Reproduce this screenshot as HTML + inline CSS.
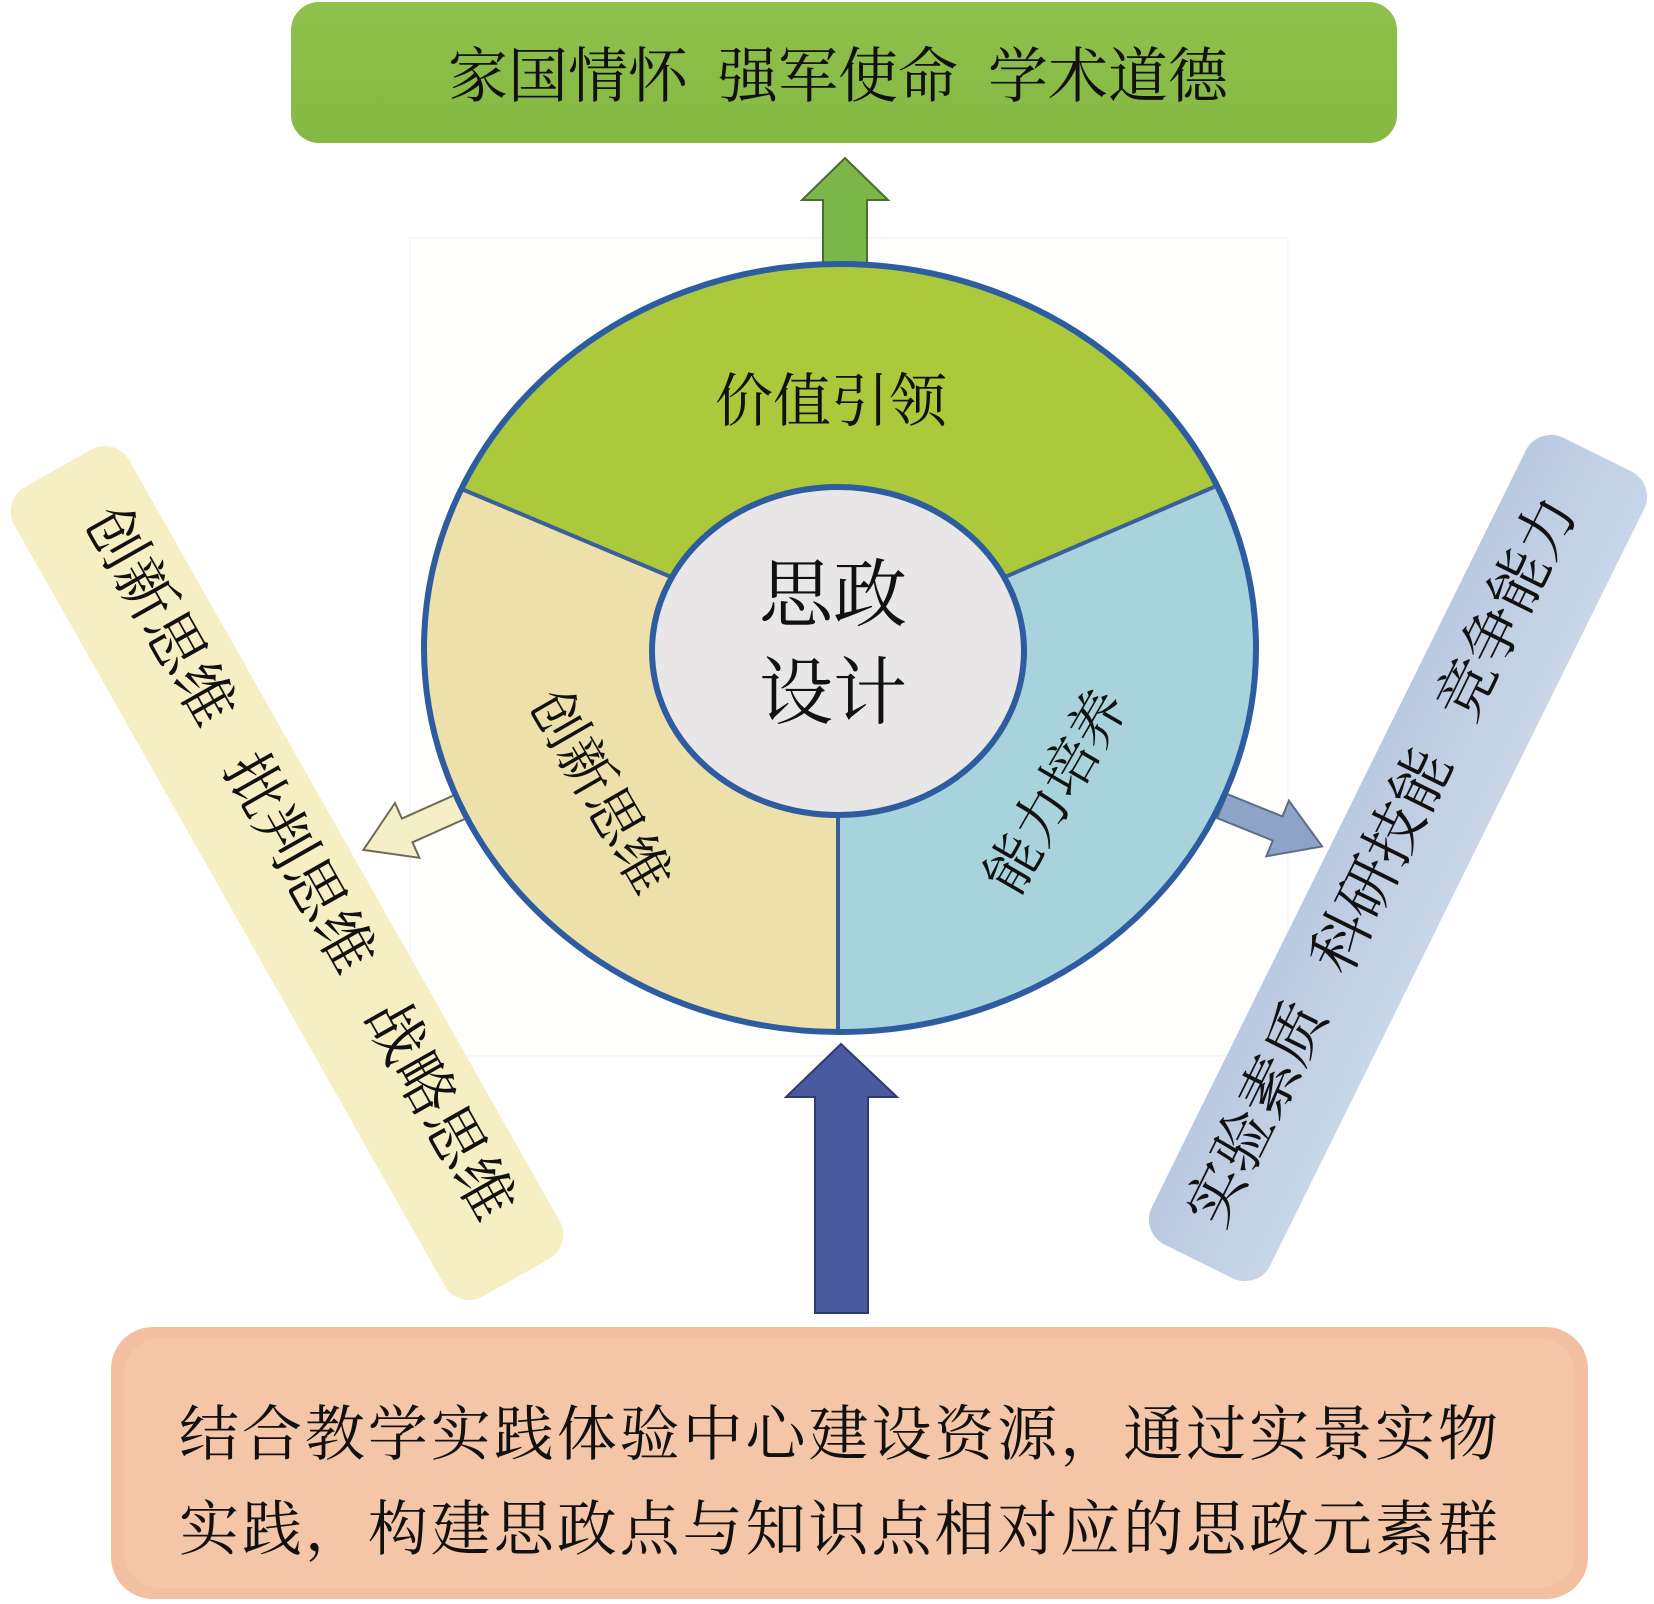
<!DOCTYPE html>
<html><head><meta charset="utf-8"><style>
html,body{margin:0;padding:0;background:#fff;}
svg{display:block;}
text{font-family:"Liberation Serif","Noto Serif CJK SC","Noto Sans CJK SC",serif;fill:#111;}
</style></head><body>
<svg width="1654" height="1604" viewBox="0 0 1654 1604" xmlns="http://www.w3.org/2000/svg">
<defs>
<linearGradient id="gb" x1="0" y1="0" x2="0" y2="1"><stop offset="0" stop-color="#8fc04c"/><stop offset="1" stop-color="#86b844"/></linearGradient>
<linearGradient id="rb" x1="0" y1="0" x2="1" y2="0"><stop offset="0" stop-color="#b9c9e0"/><stop offset="1" stop-color="#c9d6e8"/></linearGradient>
</defs>
<rect x="410" y="238" width="878" height="818" fill="#fefefd" stroke="#f7f7f3" stroke-width="2"/>
<rect x="291" y="2" width="1106" height="141" rx="28" fill="url(#gb)"/>
<text x="838" y="97" font-size="60" text-anchor="middle">家国情怀<tspan dx="30">强军使命</tspan><tspan dx="30">学术道德</tspan></text>
<polygon points="823,263 823,200 802,200 845,158 888,200 867,200 867,263" fill="#7ab648" stroke="#4d6b30" stroke-width="2"/>
<rect x="111" y="1327" width="1477" height="272" rx="42" fill="#f2c0a0"/>
<rect x="124" y="1338" width="1451" height="250" rx="36" fill="#f4c5a6"/>
<text x="179" y="1455" font-size="60" textLength="1319" lengthAdjust="spacing">结合教学实践体验中心建设资源，通过实景实物</text>
<text x="179" y="1550" font-size="60" textLength="1319" lengthAdjust="spacing">实践，构建思政点与知识点相对应的思政元素群</text>
<polygon points="815,1313 815,1097 786,1097 841,1044 897,1097 868,1097 868,1313" fill="#4a5a9e" stroke="#2e3a70" stroke-width="2"/>
<g transform="translate(287,873) rotate(-29.5)">
<rect x="-66" y="-465" width="132" height="930" rx="28" fill="#f6efc4"/>
</g>
<text transform="translate(282,873) rotate(60.5)" font-size="60" text-anchor="middle">创新思维<tspan dx="44">批判思维</tspan><tspan dx="44">战略思维</tspan></text>
<g transform="translate(1398,858) rotate(26.3)">
<rect x="-66" y="-450" width="132" height="900" rx="28" fill="url(#rb)"/>
</g>
<text transform="translate(1400,870) rotate(-63.7)" font-size="60" text-anchor="middle">实验素质<tspan dx="42">科研技能</tspan><tspan dx="42">竞争能力</tspan></text>
<g transform="translate(462,806) rotate(156)">
<polygon points="0,-13 60,-13 60,-30 108,0 60,30 60,13 0,13" fill="#f5efc8" stroke="#6b6b55" stroke-width="2"/>
</g>
<g transform="translate(1222,806) rotate(22)">
<polygon points="0,-13 60,-13 60,-30 108,0 60,30 60,13 0,13" fill="#8ea3c8" stroke="#5e6c84" stroke-width="2"/>
</g>
<clipPath id="cc"><ellipse cx="840" cy="648" rx="416" ry="384"/></clipPath>
<g clip-path="url(#cc)">
<ellipse cx="840" cy="648" rx="416" ry="384" fill="#a9d3dc"/>
<polygon points="840,648 840,1100 300,1100 300,480 464,490" fill="#ede0aa"/>
<polygon points="840,648 464,490 300,480 300,200 1400,200 1400,470 1214,487" fill="#abc93b"/>
<line x1="840" y1="648" x2="464" y2="490" stroke="#3a5f9a" stroke-width="4"/>
<line x1="840" y1="648" x2="1214" y2="487" stroke="#3a5f9a" stroke-width="4"/>
<line x1="838" y1="648" x2="838" y2="1040" stroke="#3a5f9a" stroke-width="4"/>
</g>
<ellipse cx="840" cy="648" rx="416" ry="384" fill="none" stroke="#2e5ca0" stroke-width="6"/>
<ellipse cx="838" cy="651" rx="186" ry="164" fill="#e8e6e6" stroke="#2e5ca0" stroke-width="6"/>
<text x="831" y="421" font-size="58" text-anchor="middle">价值引领</text>
<text x="833" y="620" font-size="74" text-anchor="middle">思政</text>
<text x="833" y="718" font-size="74" text-anchor="middle">设计</text>
<text transform="translate(601,791) rotate(60)" font-size="56" text-anchor="middle" dy="20">创新思维</text>
<text transform="translate(1055,791) rotate(-60)" font-size="56" text-anchor="middle" dy="20">能力培养</text>
</svg>
</body></html>
